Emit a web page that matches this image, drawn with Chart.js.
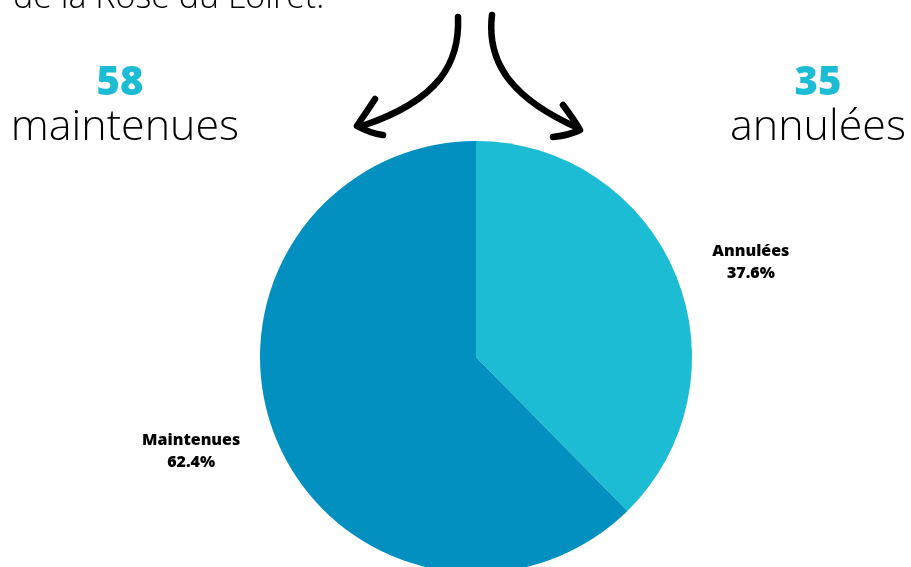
<!DOCTYPE html>
<html lang="fr">
<head>
<meta charset="utf-8">
<script src="https://cdn.jsdelivr.net/npm/chart.js@4.4.1/dist/chart.umd.min.js"></script>
<style>
  html, body { margin: 0; padding: 0; width: 911px; height: 567px; overflow: hidden; background: #fff; }
  #wrap { position: relative; width: 911px; height: 567px; }
  #pie { position: absolute; left: 0; top: 0; }
  .txt { position: absolute; white-space: nowrap; color: #000; font-family: "Open Sans", sans-serif; }
  .big { font-weight: 300; font-size: 43px; line-height: 1; }
  .intro { font-weight: 300; font-size: 34px; line-height: 1; }
  .num { font-weight: 800; font-size: 40px; line-height: 1; color: #1bbcd4; }
  #arrows { position: absolute; left: 0; top: 0; }
</style>
</head>
<body>
<div id="wrap">
  <canvas id="pie" width="911" height="600"></canvas>
  <div class="txt intro" id="intro" style="left:13px; top:-22px;">de la Rose du Loiret.</div>
  <div class="txt num" id="leftNum" style="left:120px; top:60px; transform:translateX(-50%);"></div>
  <div class="txt big" id="leftWord" style="left:125px; top:102px; transform:translateX(-50%);"></div>
  <div class="txt num" id="rightNum" style="left:818px; top:60px; transform:translateX(-50%);"></div>
  <div class="txt big" id="rightWord" style="left:818px; top:102px; transform:translateX(-50%);"></div>
  <svg id="arrows" width="911" height="567">
    <g fill="none" stroke="#000" stroke-width="6.5" stroke-linecap="round" stroke-linejoin="round">
      <path d="M458 17 C460 62 440 100 362 126"/>
      <path d="M375 99 C368 110 362 118 357 126 C366 131 375 134 383 135"/>
      <path d="M492 15 C486 65 515 100 578 128"/>
      <path d="M563 105 C569 113 575 121 580 130 C572 134 562 136 553 137"/>
    </g>
  </svg>
</div>
<script>
// Outings kept vs cancelled
const labels = ['Annulées', 'Maintenues'];
const counts = [35, 58];
const words = ['annulées', 'maintenues'];
const colors = ['#1bbcd4', '#0190bf'];

const total = counts.reduce((a, b) => a + b, 0);
const pct = counts.map(v => (v / total * 100).toFixed(1) + '%');

document.getElementById('rightNum').textContent = counts[0];
document.getElementById('rightWord').textContent = words[0];
document.getElementById('leftNum').textContent = counts[1];
document.getElementById('leftWord').textContent = words[1];

// Draws label + percentage outside each slice
const outsideLabels = {
  id: 'outsideLabels',
  afterDatasetsDraw(chart) {
    const ctx = chart.ctx;
    const meta = chart.getDatasetMeta(0);
    ctx.save();
    ctx.fillStyle = '#000';
    ctx.textAlign = 'center';
    ctx.textBaseline = 'middle';
    ctx.font = '800 16px "Open Sans", sans-serif';
    meta.data.forEach((arc, i) => {
      const p = arc.getProps(['x', 'y', 'startAngle', 'endAngle', 'outerRadius'], true);
      const mid = (p.startAngle + p.endAngle) / 2;
      const x = p.x - 5 + Math.cos(mid) * p.outerRadius * 1.4;
      const y = p.y + Math.sin(mid) * p.outerRadius * 1.16;
      ctx.fillText(labels[i], x, y - 11);
      ctx.fillText(pct[i], x, y + 11);
    });
    ctx.restore();
  }
};

new Chart(document.getElementById('pie'), {
  type: 'pie',
  data: {
    labels: labels,
    datasets: [{
      data: counts,
      backgroundColor: colors,
      borderWidth: 0
    }]
  },
  options: {
    responsive: false,
    animation: false,
    layout: { padding: { left: 260, right: 219, top: 141, bottom: 27 } },
    plugins: {
      legend: { display: false },
      tooltip: { enabled: false }
    }
  },
  plugins: [outsideLabels]
});
</script>
</body>
</html>
